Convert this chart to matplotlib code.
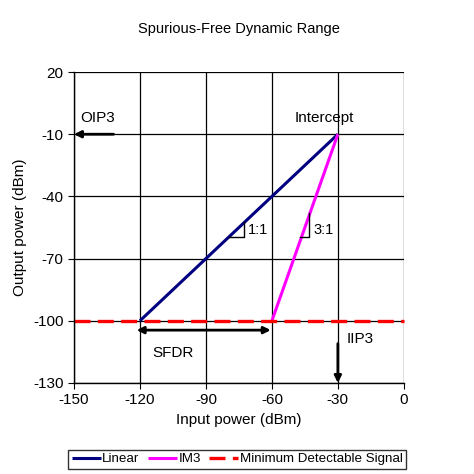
import matplotlib
matplotlib.use("Agg")
import matplotlib.pyplot as plt

plt.rcParams['font.family'] = ['Liberation Sans', 'DejaVu Sans']
plt.rcParams['axes.unicode_minus'] = False

linear_x = [-120, -30]
linear_y = [-100, -10]
im3_x = [-60, -30]
im3_y = [-100, -10]
mds_x = [-150, 0]
mds_y = [-100, -100]
xticks = [-150, -120, -90, -60, -30, 0]
yticks = [20, -10, -40, -70, -100, -130]

fig = plt.figure(figsize=(4.74, 4.74), dpi=100)
ax = fig.add_axes([0.156, 0.192, 0.696, 0.656])
ax.set_xlim(-150, 0)
ax.set_ylim(-130, 20)
ax.set_xticks(xticks)
ax.set_yticks(yticks)
ax.grid(True, color='black', linewidth=0.9)
ax.set_axisbelow(True)
ax.tick_params(labelsize=11, length=4, direction='out')
for s in ['top', 'right']:
    ax.spines[s].set_visible(False)
ax.spines['left'].set_linewidth(1.0)
ax.spines['bottom'].set_linewidth(1.0)

ax.plot(linear_x, linear_y, color='#000080', lw=2.2, label='Linear', solid_capstyle='butt')
ax.plot(im3_x, im3_y, color='#FF00FF', lw=2.2, label='IM3', solid_capstyle='butt')
ax.plot(mds_x, mds_y, color='#FF0000', lw=2.4, dashes=(4.8, 2.2), label='Minimum Detectable Signal', clip_on=False)

ax.set_title('Spurious-Free Dynamic Range', fontsize=10.5, pad=28)
ax.set_xlabel('Input power (dBm)', fontsize=11)
ax.set_ylabel('Output power (dBm)', fontsize=11)

ap = dict(arrowstyle='-|>', color='black', lw=2, mutation_scale=10, shrinkA=0, shrinkB=0)
ax.annotate('', xy=(-150, -10), xytext=(-132, -10), arrowprops=ap, annotation_clip=False)
ax.text(-147, -2, 'OIP3', fontsize=11, va='center', ha='left')
ax.text(-36, -2, 'Intercept', fontsize=11, va='center', ha='center')
ax.annotate('', xy=(-30, -130), xytext=(-30, -111), arrowprops=ap, annotation_clip=False)
ax.text(-20, -109, 'IIP3', fontsize=11, va='center', ha='center')
ap2 = dict(arrowstyle='<|-|>', color='black', lw=2, mutation_scale=10, shrinkA=0, shrinkB=0)
ax.annotate('', xy=(-121.5, -104.5), xytext=(-60.5, -104.5), arrowprops=ap2)
ax.text(-105, -115.5, 'SFDR', fontsize=11, va='center', ha='center')

ax.plot([-79.5, -72.7, -72.7], [-59.6, -59.6, -52.3], color='black', lw=1)
ax.text(-71, -56, '1:1', fontsize=10.5, va='center', ha='left')
ax.plot([-47.3, -43.2, -43.2], [-59.6, -59.6, -48], color='black', lw=1)
ax.text(-41, -56, '3:1', fontsize=10.5, va='center', ha='left')

leg = fig.legend(loc='center', bbox_to_anchor=(0.5, 0.031), ncol=3, fontsize=9.6,
                 frameon=True, fancybox=False, edgecolor='black', handlelength=2.2,
                 handletextpad=0.1, columnspacing=0.6, borderpad=0.25)
leg.get_frame().set_linewidth(1.0)

fig.savefig('out.png', dpi=100)
